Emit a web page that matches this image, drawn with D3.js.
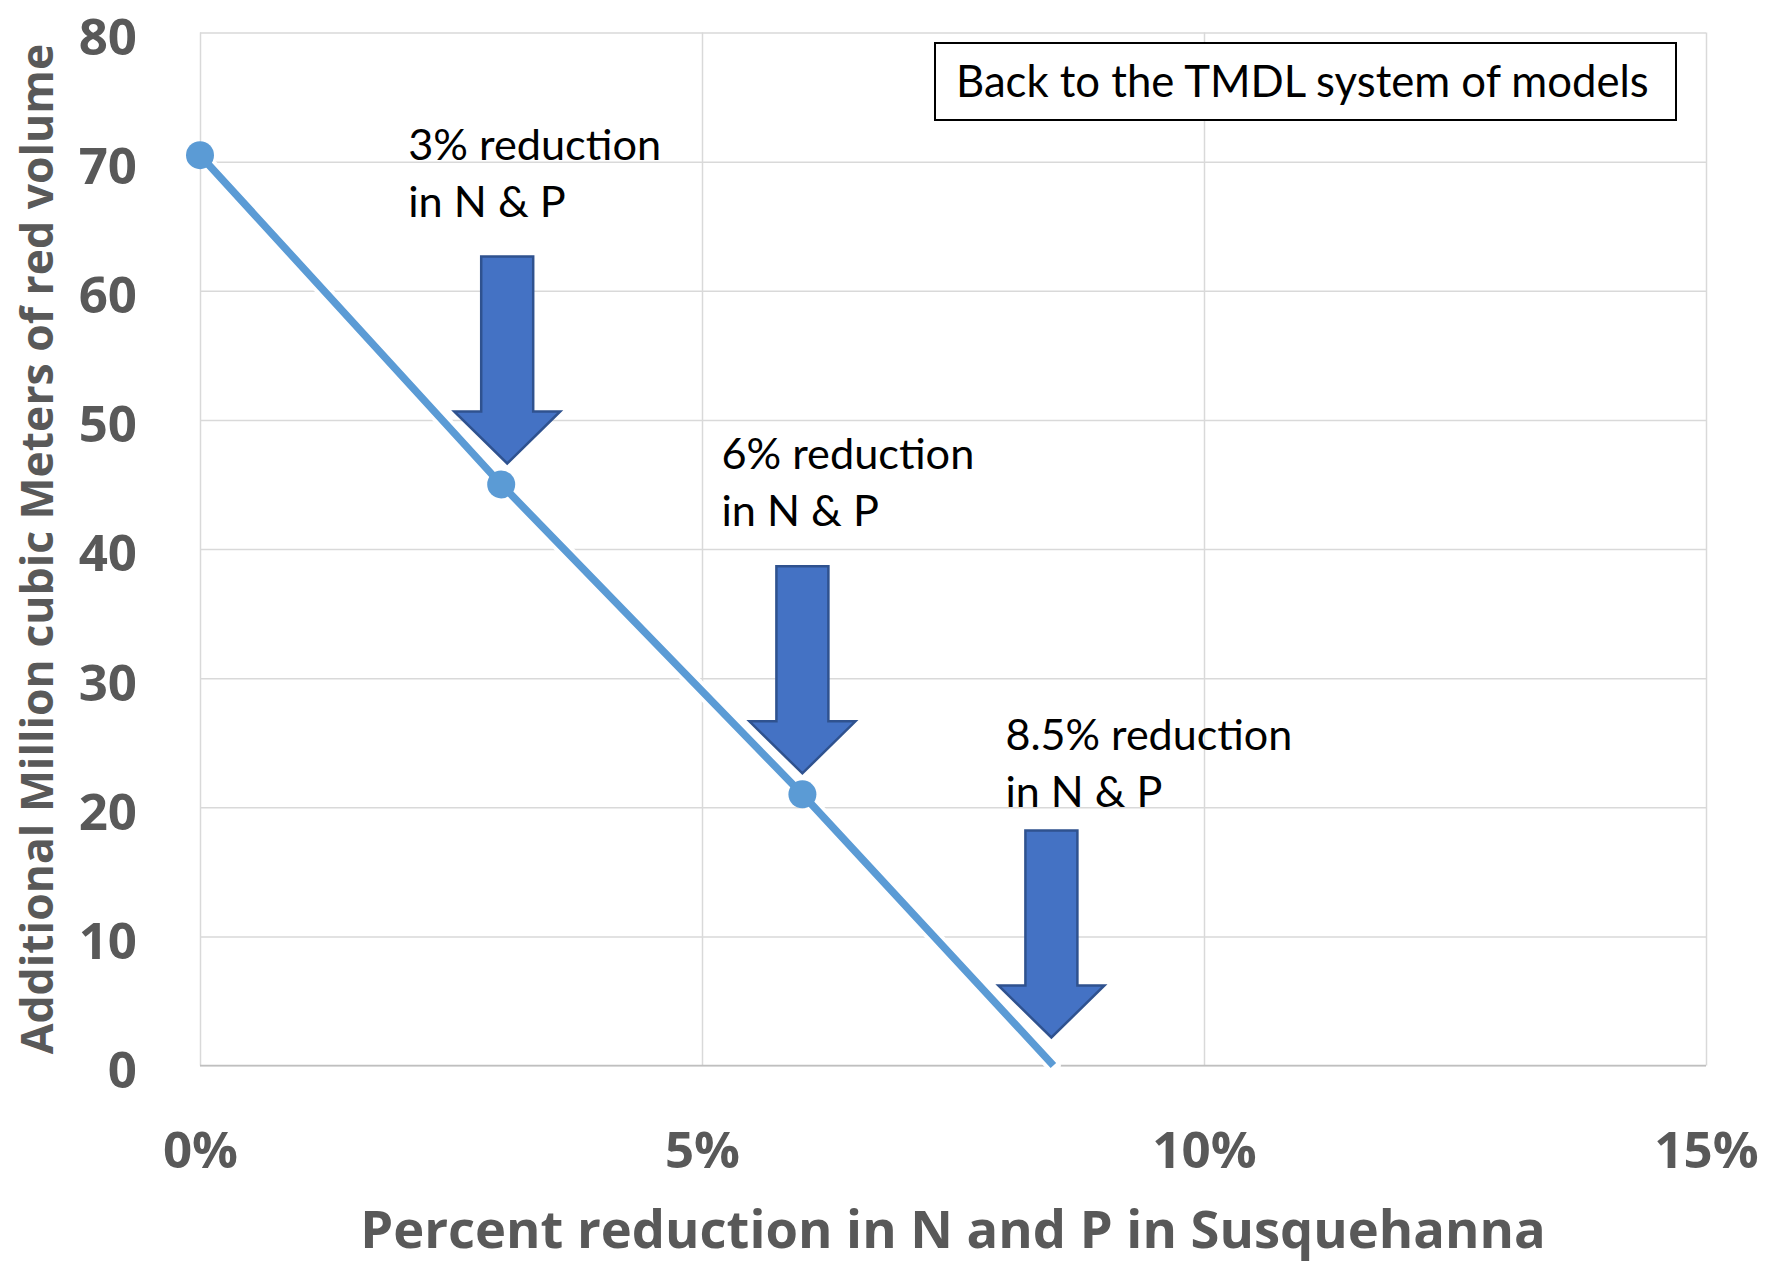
<!DOCTYPE html>
<html>
<head>
<meta charset="utf-8">
<script src="https://cdn.jsdelivr.net/npm/d3@7"></script>
<style>
  html, body { margin: 0; padding: 0; background: #fff; }
  svg { display: block; font-family: Lato, "Open Sans", sans-serif; }
</style>
</head>
<body>
<svg id="chart" width="1781" height="1265"></svg>
<script>
// Reduction in N & P loads (%) and the extra volume of red (hypoxic) water
const reductionPct = [0, 3, 6, 8.5];
const redVolume = [70.5, 45, 21, 0];
const markedPoints = [0, 1, 2];          // indices of points shown with a dot

// Reductions singled out with arrows
const arrowPct = [3, 6, 8.5];
const arrowVal = [45, 21, 0];
const arrowLabels = [
  ["3% reduction", "in N & P"],
  ["6% reduction", "in N & P"],
  ["8.5% reduction", "in N & P"]
];

const xTicks = [0, 5, 10, 15];
const yTicks = [0, 10, 20, 30, 40, 50, 60, 70, 80];
const xTitle = "Percent reduction in N and P in Susquehanna";
const yTitle = "Additional Million cubic Meters of red volume";
const noteText = "Back to the TMDL system of models";

// ---- layout ----
const plot = { left: 200, right: 1706, top: 32.5, bottom: 1065.5 };
const svg = d3.select("#chart");

const x = d3.scaleLinear().domain([0, 15]).range([plot.left, plot.right]);
const y = d3.scaleLinear().domain([0, 80]).range([plot.bottom, plot.top]);

const gridColor = "#d9d9d9";
const labelColor = "#595959";
const boldFont = "'Open Sans', Lato, sans-serif";

// gridlines
svg.append("g")
  .attr("transform", `translate(0,${plot.bottom})`)
  .call(d3.axisBottom(x).tickValues(xTicks).tickSize(-(plot.bottom - plot.top)).tickFormat(""))
  .call(g => g.select(".domain").remove())
  .call(g => g.selectAll("line").attr("stroke", gridColor).attr("stroke-width", 1.5));

svg.append("g")
  .attr("transform", `translate(${plot.left},0)`)
  .call(d3.axisLeft(y).tickValues(yTicks).tickSize(-(plot.right - plot.left)).tickFormat(""))
  .call(g => g.select(".domain").remove())
  .call(g => g.selectAll("line").attr("stroke", gridColor).attr("stroke-width", 1.5));

// horizontal axis line
svg.append("line")
  .attr("x1", plot.left).attr("x2", plot.right)
  .attr("y1", y(0)).attr("y2", y(0))
  .attr("stroke", "#bfbfbf").attr("stroke-width", 1.5);

// tick labels
svg.append("g")
  .attr("transform", `translate(${plot.left},0)`)
  .call(d3.axisLeft(y).tickValues(yTicks).tickSize(0).tickPadding(63).tickFormat(d3.format("d")))
  .call(g => g.select(".domain").remove())
  .call(g => g.selectAll("text")
    .attr("fill", labelColor).attr("font-size", 51).attr("font-weight", 700)
    .attr("font-family", boldFont).attr("dy", "0.43em"));

svg.append("g")
  .attr("transform", `translate(0,${plot.bottom})`)
  .call(d3.axisBottom(x).tickValues(xTicks).tickSize(0).tickFormat(d => d + "%"))
  .call(g => g.select(".domain").remove())
  .call(g => g.selectAll("text")
    .attr("fill", labelColor).attr("font-size", 51).attr("font-weight", 700)
    .attr("font-family", boldFont).attr("dy", null).attr("y", 102.5));

// scale a text's font so it spans the given width
function fitWidth(sel, width) {
  const node = sel.node();
  const size = parseFloat(sel.attr("font-size"));
  const w = node.getComputedTextLength();
  sel.attr("font-size", size * width / w);
  return sel;
}

// axis titles
svg.append("text")
  .attr("x", (plot.left + plot.right) / 2).attr("y", 1248)
  .attr("text-anchor", "middle")
  .attr("font-family", boldFont)
  .attr("font-size", 54).attr("font-weight", 700).attr("fill", labelColor)
  .text(xTitle)
  .call(s => fitWidth(s, 1186));

svg.append("text")
  .attr("transform", `translate(53,${(plot.top + plot.bottom) / 2}) rotate(-90)`)
  .attr("text-anchor", "middle")
  .attr("font-family", boldFont)
  .attr("font-size", 50).attr("font-weight", 700).attr("fill", labelColor)
  .text(yTitle)
  .call(s => fitWidth(s, 1011));

// series line (white halo underneath, then the blue line)
const pts = reductionPct.map((p, i) => [x(p), y(redVolume[i])]);
const line = d3.line();
svg.append("path").attr("d", line(pts))
  .attr("fill", "none").attr("stroke", "#fff").attr("stroke-width", 15)
  .attr("stroke-linecap", "round");
svg.append("path").attr("d", line(pts))
  .attr("fill", "none").attr("stroke", "#5b9bd5").attr("stroke-width", 7.5);

svg.append("g").selectAll("circle")
  .data(markedPoints)
  .join("circle")
  .attr("cx", i => x(reductionPct[i]))
  .attr("cy", i => y(redVolume[i]))
  .attr("r", 14)
  .attr("fill", "#5b9bd5");

// downward block arrows pointing at each reduction level
const shaftHalf = 26, headHalf = 53, headH = 52, arrowH = 207, tipGap = 21;
const arrowNudge = [6, 0, -2];
function arrowPath(tx, ty) {
  const base = ty - headH, top = ty - arrowH;
  return `M${tx - shaftHalf},${top} L${tx + shaftHalf},${top} L${tx + shaftHalf},${base} ` +
         `L${tx + headHalf},${base} L${tx},${ty} L${tx - headHalf},${base} L${tx - shaftHalf},${base} Z`;
}
const tips = arrowPct.map((p, i) => [x(p) + arrowNudge[i], y(arrowVal[i]) - tipGap - (i === 2 ? 7 : 0)]);

svg.append("g").selectAll("path")
  .data(tips)
  .join("path")
  .attr("d", d => arrowPath(d[0], d[1]))
  .attr("fill", "#4472c4").attr("stroke", "#2f528f").attr("stroke-width", 2.5)
  .attr("stroke-linejoin", "miter");

// arrow annotations
const labelDx = [-99, -81, -46];
const labelDy = [-306, -307, -291];
const labelLineGap = 57;
const labelWidths = [253, 253, 287];
arrowLabels.forEach((lines, i) => {
  const g = svg.append("g");
  lines.forEach((t, j) => {
    const txt = g.append("text")
      .attr("x", tips[i][0] + labelDx[i])
      .attr("y", tips[i][1] + labelDy[i] + j * labelLineGap + 3)
      .attr("font-size", 42).attr("fill", "#000")
      .text(t);
    if (j === 0) fitWidth(txt, labelWidths[i]);
    else txt.attr("font-size", g.select("text").attr("font-size"));
  });
});

// note box
svg.append("rect")
  .attr("x", 935).attr("y", 43).attr("width", 741).attr("height", 77)
  .attr("fill", "#fff").attr("stroke", "#000").attr("stroke-width", 2);
svg.append("text")
  .attr("x", 956).attr("y", 97)
  .attr("font-size", 40).attr("fill", "#000")
  .text(noteText)
  .call(s => fitWidth(s, 693));
</script>
</body>
</html>
